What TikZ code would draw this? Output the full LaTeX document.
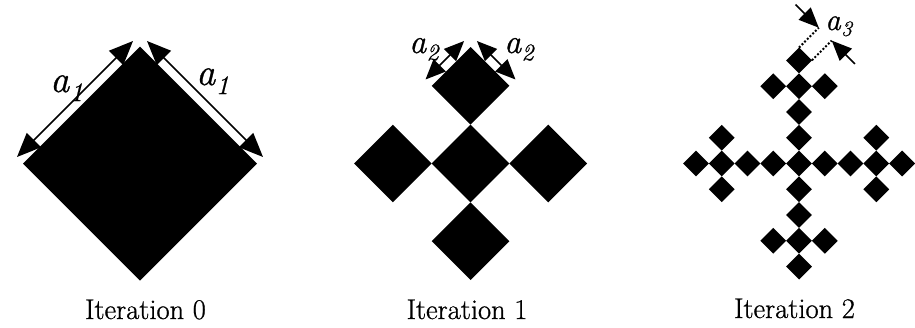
\documentclass[tikz,border=0pt]{standalone}
\usepackage{fontspec}
\newfontfamily\capfont[FakeBold=0.8]{Latin Modern Roman}
\usetikzlibrary{arrows.meta}
\begin{document}
\begin{tikzpicture}[x=1pt,y=-1pt,
  dimA/.style={line width=1.6pt,{Triangle[length=24pt,width=20pt]}-{Triangle[length=24pt,width=20pt]}},
  dimB/.style={line width=1.6pt,{Triangle[length=20pt,width=17pt]}-{Triangle[length=20pt,width=17pt]}},
  dimC/.style={line width=1.6pt,-{Triangle[length=20pt,width=17pt]}},
  extline/.style={line width=2pt,dash pattern=on 2pt off 1.8pt},
  lab/.style={font=\capfont\fontsize{38}{44}\selectfont,inner sep=0pt,anchor=base west},
  labs/.style={font=\capfont\fontsize{34}{40}\selectfont,inner sep=0pt,anchor=base west},
  labt/.style={font=\capfont\fontsize{31}{36}\selectfont,inner sep=0pt,anchor=base west},
  captext/.style={font=\capfont\fontsize{28.5}{34}\selectfont,inner sep=0pt,anchor=base}]
\useasboundingbox (0,0) rectangle (915,327);

% ---------- Iteration 0 ----------
\coordinate (T0) at (140,46.5);
\coordinate (R0) at (257,163.5);
\coordinate (B0) at (140,280.5);
\coordinate (L0) at (23,163.5);
\fill (T0) -- (R0) -- (B0) -- (L0) -- cycle;
\coordinate (a0ls) at (17,157);
\coordinate (a0le) at (133,41);
\coordinate (a0rs) at (147,41);
\coordinate (a0re) at (263,157);
\draw[dimA] (a0ls) -- (a0le);
\draw[dimA] (a0rs) -- (a0re);
\node[lab] (la1) at (50,92) {\textit{a}\textsubscript{\textit{1}}};
\node[lab] (ra1) at (196,85) {\textit{a}\textsubscript{\textit{1}}};
\node[captext] (c0) at (145.5,319) {Iteration 0};

% ---------- Iteration 1 ----------
\foreach \dx/\dy in {0/0,1/0,-1/0,0/1,0/-1}
  \fill[shift={({470.5+\dx*77.67},{163.5+\dy*77.67})}]
    (0,-38.83) -- (38.83,0) -- (0,38.83) -- (-38.83,0) -- cycle;
\coordinate (a1ls) at (425.5,79.5);
\coordinate (a1le) at (464.1,41.0);
\coordinate (a1rs) at (476.9,41.0);
\coordinate (a1re) at (515.5,79.5);
\draw[dimB] (a1ls) -- (a1le);
\draw[dimB] (a1rs) -- (a1re);
\node[labs] (la2) at (409,53) {\textit{a}\textsubscript{\textit{2}}};
\node[labs] (ra2) at (504,53) {\textit{a}\textsubscript{\textit{2}}};
\node[captext] (c1) at (467,319) {Iteration 1};

% ---------- Iteration 2 ----------
\foreach \gx/\gy in {0/0,1/0,-1/0,0/1,0/-1}
  \foreach \sx/\sy in {0/0,1/0,-1/0,0/1,0/-1}
    \fill[shift={({799+\gx*77.33+\sx*25.78},{163.5+\gy*77.33+\sy*25.78})}]
      (0,-12.89) -- (12.89,0) -- (0,12.89) -- (-12.89,0) -- cycle;
\coordinate (T2) at (799,47.6);
\coordinate (R2) at (811.89,60.39);
\coordinate (e1) at (818.8,27.7);
\coordinate (e2) at (831.7,40.6);
\coordinate (t1) at (795.5,4.5);
\coordinate (t2) at (855,63.9);
\draw[extline] (T2) -- (e1);
\draw[extline] (R2) -- (e2);
\draw[dimC] (t1) -- (e1);
\draw[dimC] (t2) -- (e2);
\node[labt] (a3) at (825,30) {\textit{a}\textsubscript{\textit{3}}};
\node[captext] (c2) at (794.5,318) {Iteration 2};
\end{tikzpicture}
\end{document}
